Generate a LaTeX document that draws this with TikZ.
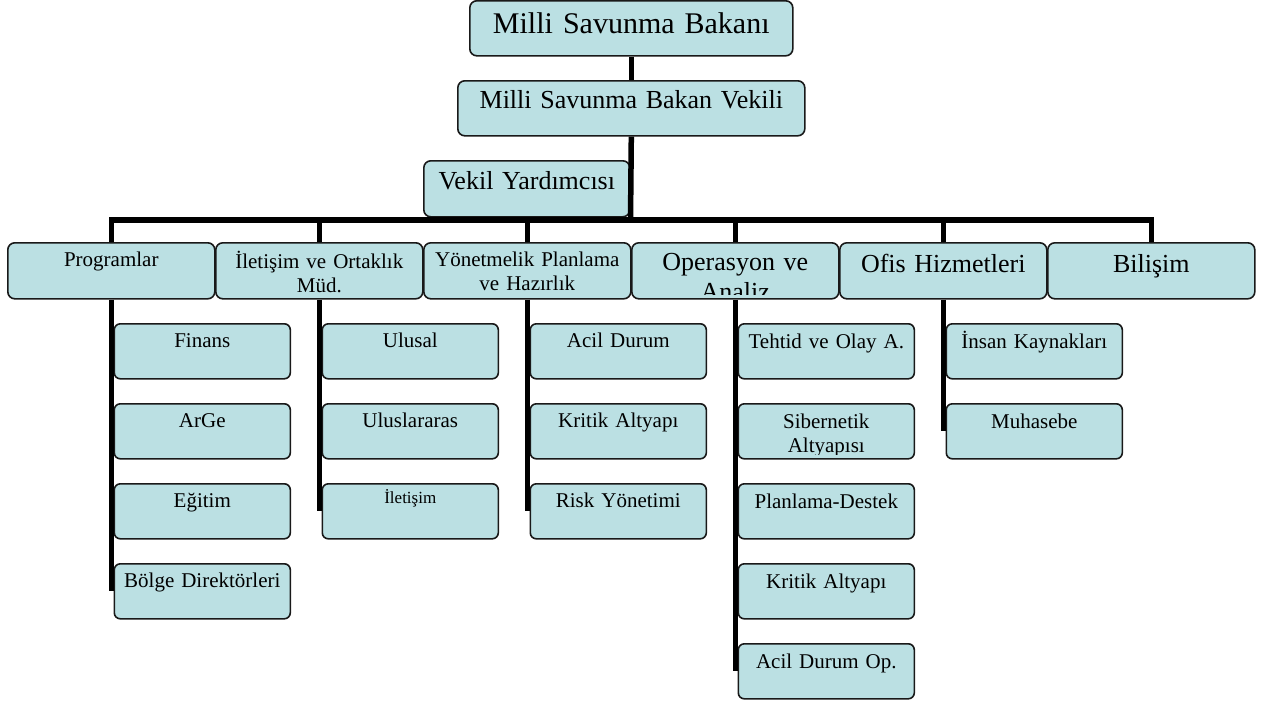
\documentclass[tikz,border=0pt]{standalone}
\usepackage{fontspec}
\setmainfont{Liberation Serif}
\definecolor{kutumavi}{RGB}{187,224,227}
\newcommand\dev{\fontsize{30}{34}\selectfont}
\newcommand\buyuk{\fontsize{26}{30}\selectfont}
\newcommand\kucuk{\fontsize{21}{24}\selectfont}
\newcommand\minik{\fontsize{17}{20}\selectfont}
\tikzset{
  kutu/.style={draw=black!90,line width=1.6pt,fill=kutumavi,rounded corners=7pt,anchor=north west,inner sep=0pt,minimum width=207pt,minimum height=56pt},
  altkutu/.style={kutu,rounded corners=6pt,minimum width=176pt,minimum height=55pt},
  hat/.style={line width=5.5pt,line join=miter,line cap=butt},
  yazi/.style n args={3}{path picture={
    \clip ([yshift=4pt]path picture bounding box.south west) rectangle (path picture bounding box.north east);
    \node[anchor=base,align=center,text width=380pt,inner sep=0pt,font=#1] at ([yshift=-#2pt]path picture bounding box.north) {#3};}}
}
\begin{document}
\begin{tikzpicture}[x=1pt,y=-1pt]
\useasboundingbox (0,0) rectangle (1274,704);
% ust kademe
\node[kutu,minimum width=323pt,minimum height=55pt,yazi={\dev}{33}{Milli Savunma Bakanı}] (bakan) at (469,0) {};
\node[kutu,minimum width=347pt,minimum height=55pt,yazi={\buyuk}{28}{Milli Savunma Bakan Vekili}] (vekil) at (457,80) {};
\node[kutu,minimum width=206pt,yazi={\buyuk}{29}{Vekil Yardımcısı}] (yardimci) at (423,160) {};
% mudurlukler
\node[kutu,yazi={\kucuk}{24}{Programlar}] (programlar) at (7,242) {};
\node[kutu,yazi={\kucuk}{26}{İletişim ve Ortaklık\\Müd.}] (iletisim) at (215,242) {};
\node[kutu,yazi={\kucuk}{24}{Yönetmelik Planlama\\ve Hazırlık}] (yonetmelik) at (423,242) {};
\node[kutu,yazi={\buyuk}{28}{Operasyon ve\\Analiz}] (operasyon) at (631,242) {};
\node[kutu,yazi={\buyuk}{30}{Ofis Hizmetleri}] (ofis) at (839,242) {};
\node[kutu,yazi={\buyuk}{30}{Bilişim}] (bilisim) at (1047,242) {};
% alt birimler
\foreach \ad/\metin [count=\i from 0] in {finans/Finans,arge/ArGe,egitim/Eğitim,bolge/Bölge Direktörleri}
  \node[altkutu,yazi={\kucuk}{24}{\metin}] (\ad) at (113.5,{323+80*\i}) {};
\foreach \ad/\metin [count=\i from 0] in {ulusal/Ulusal,uluslararas/Uluslararas}
  \node[altkutu,yazi={\kucuk}{24}{\metin}] (\ad) at (321.5,{323+80*\i}) {};
\node[altkutu,yazi={\minik}{20}{İletişim}] (iletisimbirim) at (321.5,483) {};
\foreach \ad/\metin [count=\i from 0] in {acildurum/Acil Durum,kritik/Kritik Altyapı,risk/Risk Yönetimi}
  \node[altkutu,yazi={\kucuk}{24}{\metin}] (\ad) at (529.5,{323+80*\i}) {};
\foreach \ad/\metin [count=\i from 0] in {tehtid/Tehtid ve Olay A.,sibernetik/Sibernetik\\Altyapısı,planlama/Planlama-Destek,kritikop/Kritik Altyapı,acilop/Acil Durum Op.}
  \node[altkutu,yazi={\kucuk}{25}{\metin}] (\ad) at (737.5,{323+80*\i}) {};
\foreach \ad/\metin [count=\i from 0] in {insan/İnsan Kaynakları,muhasebe/Muhasebe}
  \node[altkutu,yazi={\kucuk}{25}{\metin}] (\ad) at (945.5,{323+80*\i}) {};
% baglantilar
\coordinate (bus) at (630.5,220);
\draw[hat] (bakan) -- (vekil);
\draw[hat] (vekil.south) -- (bus);
\draw[hat] (programlar.north) |- (bus) -| (bilisim.north);
\foreach \k in {iletisim,yonetmelik,operasyon,ofis}
  \draw[hat] (\k.north) -- (\k.north |- bus);
\draw[hat] (programlar.south) -- (programlar.south |- bolge.west);
\draw[hat] (iletisim.south) -- (iletisim.south |- iletisimbirim.west);
\draw[hat] (yonetmelik.south) -- (yonetmelik.south |- risk.west);
\draw[hat] (operasyon.south) -- (operasyon.south |- acilop.west);
\draw[hat] (ofis.south) -- (ofis.south |- muhasebe.west);
\end{tikzpicture}
\end{document}
